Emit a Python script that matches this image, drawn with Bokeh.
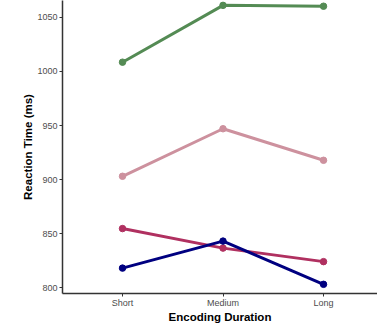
from bokeh.plotting import figure
from bokeh.models import Range1d, FixedTicker
from bokeh.embed import file_html
from bokeh.resources import INLINE

categories = ["Short", "Medium", "Long"]
green_vals = [1008.6, 1061.2, 1060.4]
pink_vals = [903.0, 947.0, 917.8]
maroon_vals = [854.6, 836.5, 824.0]
navy_vals = [818.0, 843.0, 803.0]
y_ticks = [800, 850, 900, 950, 1000, 1050]

series = [
    (green_vals, "#548B54"),
    (pink_vals, "#CD919E"),
    (maroon_vals, "#B03060"),
    (navy_vals, "#000080"),
]

xs = list(range(len(categories)))
y_lo, y_hi = 794.5, 1065.7

p = figure(width=377, height=325, output_backend="svg", toolbar_location=None,
           x_range=Range1d(-0.597, 2.537), y_range=Range1d(y_lo, y_hi),
           min_border_left=62, min_border_right=0, min_border_top=0, min_border_bottom=27)
p.outline_line_color = None
p.xgrid.visible = False
p.ygrid.visible = False
p.background_fill_color = "white"

for vals, col in series:
    p.line(xs, vals, line_color=col, line_width=3)
    p.scatter(xs, vals, size=6.5, fill_color=col, line_color=col)

for ax in (p.xaxis[0], p.yaxis[0]):
    ax.axis_line_color = "#333333"
    ax.axis_line_width = 1.5
    ax.major_tick_line_color = "#333333"
    ax.major_tick_in = 0
    ax.major_tick_out = 3
    ax.minor_tick_line_color = None
    ax.major_label_text_font = "Liberation Sans"
    ax.major_label_text_font_size = "9px"
    ax.major_label_text_color = "#4d4d4d"
    ax.axis_label_text_font = "Liberation Sans"
    ax.axis_label_text_font_size = "11.5px"
    ax.axis_label_text_font_style = "bold"
    ax.axis_label_text_color = "black"
    ax.major_label_standoff = 2
    ax.axis_label_standoff = 0

p.xaxis.ticker = FixedTicker(ticks=xs)
p.xaxis.major_label_overrides = {i: c for i, c in enumerate(categories)}
p.xaxis.axis_label = "Encoding Duration"
p.xaxis.major_label_standoff = 1
p.yaxis.ticker = FixedTicker(ticks=y_ticks)
p.yaxis.axis_label = "Reaction Time (ms)"

open("out.html", "w").write(file_html(p, INLINE))
